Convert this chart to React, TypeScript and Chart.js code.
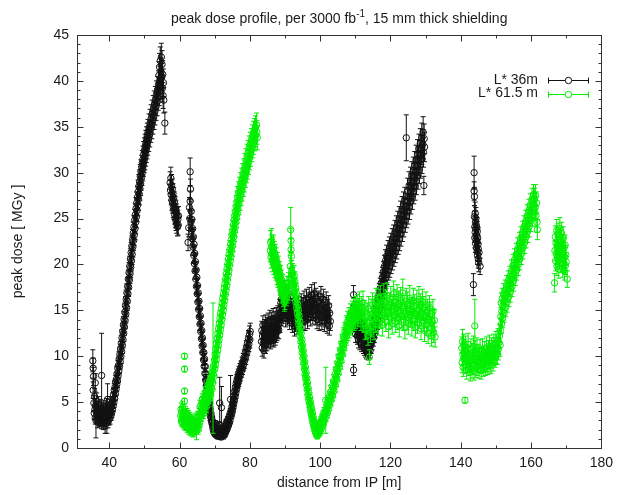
import React, { useEffect, useRef } from "react";
import { Chart, registerables } from "chart.js";

Chart.register(...registerables);

const FONT = "'Liberation Sans', Arial, Helvetica, sans-serif";
const TITLE_MAIN = "peak dose profile, per 3000 fb";
const TITLE_SUP = "-1";
const TITLE_REST = ", 15 mm thick shielding";
const X_TITLE = "distance from IP [m]";
const Y_TITLE = "peak dose [ MGy ]";
const SERIES_NAMES = ["L* 36m", "L* 61.5 m"];
const SERIES_COLORS = ["#111111", "#00ee00"];
const X_MIN = 30.8;
const X_MAX = 180;
const Y_MIN = 0;
const Y_MAX = 45;
const X_TICKS = [40, 60, 80, 100, 120, 140, 160, 180];
const X_MINOR = [50, 70, 90, 110, 130, 150, 170];
const Y_TICKS = [0, 5, 10, 15, 20, 25, 30, 35, 40, 45];
const Y_MINOR_STEP = 1;

type Pt = [number, number, number]; // [distance, dose, error]

// ---------- L* 36m ----------
const l36Valley: Pt[] = [[35.3,9.5,1.2],[35.4,8.7,1.1],[35.4,6.3,0.9],[35.5,7.8,1.0],[35.6,4.9,0.8],[35.7,3.8,0.7],[35.8,5.6,0.9],[35.9,4.2,0.8],[36.0,7.1,1.0],[36.0,3.3,0.7],[36.1,4.6,0.8],[36.2,3.0,1.9],[36.3,3.9,0.7],[36.4,5.1,0.9],[36.5,3.5,0.7],[36.6,4.3,0.8],[36.7,2.8,0.6],[36.8,3.7,0.7],[36.9,4.8,0.8],[37.0,3.2,0.7],[37.1,4.0,0.7],[37.2,2.9,0.6],[37.3,3.6,0.7],[37.4,4.5,0.8],[37.5,3.1,0.7],[37.6,3.9,0.7],[37.8,7.9,4.6],[37.8,2.7,0.6],[37.9,3.4,0.7],[38.0,4.2,0.8],[38.1,3.0,0.6],[38.2,3.7,0.7],[38.3,2.6,0.6],[38.4,4.4,0.8],[38.5,3.3,0.7],[38.6,2.9,0.6],[38.7,3.8,0.7],[38.8,3.1,1.5],[38.9,4.1,0.8],[39.0,2.7,0.6],[39.1,3.5,0.7],[39.2,4.6,0.8],[39.3,3.0,1.4],[39.4,3.8,0.7],[39.5,5.3,1.7],[39.6,2.8,0.6],[39.7,3.4,0.7],[39.8,4.0,0.7],[39.9,3.1,0.6],[40.0,3.7,0.7],[40.1,4.5,0.8],[40.2,3.3,0.7],[40.3,3.9,0.7],[40.4,4.8,0.8]];

const l36Rise: Pt[] = [[40.5,3.6,0.6],[40.6,4.5,0.6],[40.7,3.9,0.6],[40.8,4.9,0.6],[40.9,4.2,0.6],[41.0,5.3,0.7],[41.1,4.6,0.6],[41.2,5.8,0.7],[41.3,5.0,0.6],[41.4,6.3,0.7],[41.5,5.4,0.7],[41.6,6.6,0.7],[41.7,5.9,0.7],[41.8,7.2,0.7],[41.9,6.4,0.7],[42.0,7.5,0.7],[42.1,6.9,0.7],[42.2,8.1,0.8],[42.3,7.3,0.7],[42.4,8.7,0.8],[42.5,7.9,0.8],[42.6,9.0,0.8],[42.7,8.4,0.8],[42.8,9.7,0.8],[42.9,8.9,0.8],[43.0,10.2,0.8],[43.1,9.4,0.8],[43.2,10.8,0.8],[43.3,10.0,0.8],[43.4,11.4,0.9],[43.5,10.5,0.8],[43.6,12.0,0.9],[43.7,11.2,0.9],[43.8,12.7,0.9],[43.9,11.8,0.9],[44.0,13.4,0.9],[44.1,12.5,0.9],[44.2,14.0,0.9],[44.3,13.2,0.9],[44.4,14.8,1.0],[44.5,13.9,0.9],[44.6,15.5,1.0],[44.7,14.6,1.0],[44.8,16.2,1.0],[44.9,15.3,1.0],[45.0,16.9,1.0],[45.1,16.0,1.0],[45.2,17.6,1.0],[45.3,16.8,1.0],[45.4,18.4,1.0],[45.5,17.5,1.0],[45.6,19.1,1.1],[45.7,18.3,1.0],[45.8,19.8,1.1],[45.9,19.0,1.1],[46.0,20.6,1.1],[46.1,19.7,1.1],[46.2,21.3,1.1],[46.3,20.4,1.1],[46.4,22.0,1.1],[46.5,21.1,1.1],[46.6,22.7,1.1],[46.7,21.9,1.1],[46.8,23.4,1.2],[46.9,22.6,1.1],[47.0,24.1,1.2],[47.1,23.2,1.1],[47.2,24.8,1.2],[47.3,23.9,1.2],[47.4,25.4,1.2],[47.5,24.6,1.2],[47.6,26.1,1.2],[47.7,25.2,1.2],[47.8,26.7,1.2],[47.9,25.9,1.2],[48.0,27.3,1.2],[48.1,26.5,1.2],[48.2,27.9,1.3],[48.3,27.1,1.2],[48.4,28.5,1.3],[48.5,27.7,1.2],[48.6,29.0,1.3],[48.7,28.3,1.3],[48.8,29.6,1.3],[48.9,28.8,1.3],[49.0,30.1,1.3],[49.1,29.4,1.3],[49.2,30.6,1.3],[49.3,29.9,1.3],[49.4,31.1,1.3],[49.5,30.4,1.3],[49.6,31.5,1.4],[49.7,30.9,1.3],[49.8,32.0,1.4],[49.9,31.3,1.3],[50.0,32.4,1.4],[50.1,31.7,1.4],[50.2,32.8,1.4],[50.3,32.1,1.4],[50.4,33.2,1.4],[50.5,32.5,1.4],[50.6,33.6,1.4],[50.7,32.9,1.4],[50.8,34.0,1.4],[50.9,33.3,1.4],[51.0,34.4,1.4],[51.2,33.7,1.4],[51.3,34.9,1.5],[51.5,34.2,1.4],[51.6,35.4,1.5],[51.8,34.8,1.5],[51.9,35.9,1.5],[52.1,35.2,1.5],[52.2,36.4,1.5],[52.4,35.7,1.5],[52.5,36.9,1.5],[52.7,36.2,1.5],[52.8,37.4,1.5],[53.0,36.7,1.5],[53.1,37.9,1.5],[53.3,37.2,1.5],[53.4,38.5,1.5],[53.6,37.7,1.5],[53.7,39.0,1.5],[53.9,38.3,1.5],[54.0,39.6,1.5],[54.1,40.6,1.5],[54.2,38.8,1.5],[54.3,41.5,1.5],[54.4,40.1,1.5],[54.5,42.2,1.5],[54.6,39.5,1.5],[54.7,41.0,1.5],[54.8,42.6,1.5],[54.9,40.4,1.5],[55.0,41.8,1.5],[55.1,39.2,1.5],[55.2,40.7,1.5],[55.3,38.4,1.4],[55.4,39.8,1.5],[55.5,37.9,1.4],[55.8,35.4,1.2]];

const l36Step: Pt[] = [[57.3,28.9,1.2],[57.4,28.1,1.1],[57.5,29.4,1.2],[57.6,27.6,1.1],[57.7,28.6,1.2],[57.8,27.0,1.1],[57.9,28.2,1.1],[58.0,26.7,1.1],[58.1,27.7,1.1],[58.2,26.2,1.1],[58.3,27.3,1.1],[58.4,25.9,1.0],[58.5,26.8,1.1],[58.6,25.4,1.0],[58.7,26.3,1.1],[58.8,25.0,1.0],[58.9,26.0,1.0],[59.0,24.7,1.0],[59.1,25.6,1.0],[59.2,24.4,1.0],[59.3,25.2,1.0],[59.4,24.1,1.0],[59.5,24.9,1.0],[59.6,24.3,1.1],[59.7,25.3,1.0]];

const l36Fall: Pt[] = [[63.0,30.1,1.5],[63.1,28.2,1.1],[62.4,22.4,0.9],[62.6,24.0,1.0],[62.8,26.2,1.1],[62.9,25.0,1.0],[63.0,26.9,1.1],[63.2,24.6,1.0],[63.3,25.8,1.1],[63.4,23.7,1.0],[63.5,24.9,1.0],[63.6,22.8,1.0],[63.7,23.9,1.0],[63.8,21.9,0.9],[63.9,23.0,1.0],[64.0,21.0,0.9],[64.1,22.2,0.9],[64.2,20.1,0.9],[64.3,21.2,0.9],[64.4,19.3,0.9],[64.5,20.3,0.9],[64.6,18.4,0.9],[64.7,19.4,0.9],[64.8,17.6,0.8],[64.9,18.6,0.9],[65.0,16.8,0.8],[65.1,17.7,0.8],[65.2,15.9,0.8],[65.3,16.9,0.8],[65.4,15.1,0.8],[65.5,16.0,0.8],[65.6,14.3,0.8],[65.7,15.2,0.8],[65.8,13.5,0.7],[65.9,14.4,0.8],[66.0,12.7,0.7],[66.1,13.6,0.7],[66.2,11.9,0.7],[66.3,12.8,0.7],[66.4,11.1,0.7],[66.5,12.0,0.7],[66.6,10.4,0.7],[66.7,11.2,0.7],[66.8,9.6,0.6],[66.9,10.4,0.7],[67.0,8.9,0.6],[67.1,9.7,0.6],[67.2,8.1,0.6],[67.3,8.9,0.6],[67.4,7.4,0.6],[67.5,8.1,0.6],[67.6,6.8,0.5],[67.7,7.4,0.6],[67.8,6.1,0.5],[67.9,6.7,0.5],[68.0,5.5,0.5],[68.1,6.1,0.5],[68.2,4.9,0.5],[68.3,5.4,0.5],[68.4,4.4,0.4],[68.5,4.9,0.5],[68.6,3.9,0.4],[68.7,4.3,0.4],[68.8,3.4,0.4],[68.9,3.8,0.4],[69.0,3.0,0.4],[69.1,3.4,0.4],[69.2,2.7,0.3],[69.3,3.0,0.4],[69.4,2.4,0.3]];

const l36Trough: Pt[] = [[69.5,2.1,0.3],[69.6,2.6,0.3],[69.7,1.8,0.3],[69.8,2.3,0.3],[69.9,1.6,0.3],[70.0,2.0,0.3],[70.1,2.7,0.3],[70.2,1.5,0.3],[70.3,2.2,0.3],[70.4,1.8,0.3],[70.5,1.4,0.3],[70.6,2.4,0.3],[70.7,1.7,0.3],[70.8,1.3,0.3],[70.9,2.0,0.3],[71.0,1.5,0.3],[71.1,2.5,0.4],[71.2,1.3,0.3],[71.3,1.9,0.3],[71.4,4.9,2.8],[71.5,1.4,0.3],[71.6,2.1,0.3],[71.7,1.6,0.3],[71.8,1.2,0.3],[71.9,4.4,2.3],[72.0,1.8,0.3],[72.1,1.4,0.3],[72.2,2.2,0.3],[72.3,1.5,0.3],[72.4,1.9,0.3],[72.5,1.3,0.3],[72.6,2.3,0.3],[72.7,1.6,0.3],[72.8,2.0,0.3],[72.9,1.5,0.3],[73.0,2.4,0.4],[73.1,1.8,0.3],[73.2,2.7,0.4],[73.3,1.9,0.3],[73.4,2.5,0.4],[73.5,2.1,0.3],[73.6,3.0,0.4],[73.7,2.3,0.4],[73.8,2.9,0.4],[73.9,2.5,0.4],[74.0,3.3,0.4],[74.1,2.7,0.4],[74.2,3.5,0.5]];

const l36Climb: Pt[] = [[74.3,3.0,0.4],[74.4,3.8,0.5],[74.5,5.3,2.6],[74.6,3.4,0.5],[74.7,4.1,0.5],[74.8,3.7,0.5],[74.9,4.5,0.5],[75.0,4.0,0.5],[75.1,4.9,0.5],[75.2,4.4,0.5],[75.3,5.3,0.6],[75.4,4.8,0.5],[75.5,5.7,0.6],[75.6,5.2,0.6],[75.7,6.2,0.6],[75.8,5.6,0.6],[75.9,6.6,0.6],[76.0,6.0,0.6],[76.1,7.0,0.6],[76.2,6.4,0.6],[76.3,7.3,0.7],[76.4,6.8,0.6],[76.5,7.6,0.7],[76.6,7.1,0.6],[76.7,7.9,0.7],[76.8,7.4,0.7],[76.9,8.2,0.7],[77.0,7.7,0.7],[77.2,8.5,0.7],[77.3,8.0,0.7],[77.5,8.8,0.7],[77.6,8.4,0.7],[77.8,9.2,0.7],[77.9,8.7,0.7],[78.1,9.5,0.8],[78.2,9.1,0.7],[78.4,9.9,0.8],[78.5,9.5,0.8],[78.7,10.4,0.8],[78.8,9.9,0.8],[79.0,10.9,0.8],[79.1,10.4,0.8],[79.3,11.4,0.8],[79.4,10.9,0.8],[79.6,11.9,0.9],[79.7,11.3,0.8],[79.9,12.4,0.9],[80.0,11.8,0.9],[80.1,12.7,0.9]];

const l36Shelf: Pt[] = [[83.3,11.6,0.9],[83.4,12.8,1.0],[83.5,10.9,0.9],[83.6,12.2,0.9],[83.7,13.4,1.0],[83.8,11.4,0.9],[83.9,12.6,1.0],[84.0,10.6,0.8],[84.1,11.9,0.9],[84.2,13.0,1.0],[84.3,12.3,0.9],[84.4,11.2,0.9],[84.5,13.5,1.0],[84.6,12.0,0.9],[84.7,12.9,1.0],[84.8,11.5,0.9],[84.9,13.2,1.0],[85.0,12.4,0.9],[85.1,11.8,0.9],[85.2,13.7,1.0],[85.3,12.6,1.0],[85.4,11.9,0.9],[85.5,13.1,1.0],[85.6,12.2,0.9],[85.7,14.0,1.0],[85.8,12.7,1.0],[85.9,11.7,0.9],[86.0,13.3,1.0],[86.1,12.5,1.0],[86.2,13.8,1.0],[86.3,12.0,0.9],[86.4,13.0,1.0],[86.5,12.4,1.0],[86.6,14.1,1.1],[86.7,12.8,1.0],[86.8,11.9,0.9],[86.9,13.4,1.0],[87.0,12.6,1.0],[87.1,13.9,1.0],[87.2,12.2,1.0],[87.3,13.1,1.0],[87.4,12.5,1.0],[87.5,14.2,1.1],[87.6,13.3,1.0],[87.7,12.7,1.0],[87.8,13.8,1.0],[87.9,13.0,1.0],[88.0,14.4,1.1],[88.1,13.5,1.0],[88.2,12.9,1.0]];

const l36Plateau: Pt[] = [[88.4,14.0,1.0],[88.5,15.1,1.1],[88.6,13.6,1.0],[88.7,14.7,1.0],[88.8,15.8,1.1],[88.9,14.3,1.0],[89.0,16.2,1.1],[89.1,15.0,1.1],[89.2,16.8,1.1],[89.3,15.5,1.1],[89.4,14.6,1.0],[89.5,16.5,1.1],[89.6,15.2,1.1],[89.7,17.0,1.2],[89.8,15.9,1.1],[89.9,14.8,1.0],[90.0,16.3,1.1],[90.1,15.4,1.1],[90.2,14.2,1.0],[90.3,15.7,1.1],[90.4,16.6,1.1],[90.5,14.9,1.0],[90.6,15.8,1.1],[90.7,14.4,1.0],[90.8,15.3,1.1],[90.9,16.1,1.1],[91.0,14.6,1.0],[91.2,15.5,1.1],[91.3,13.9,1.0],[91.5,14.8,1.0],[91.6,15.9,1.1],[91.8,14.3,1.0],[91.9,15.2,1.1],[92.1,13.6,1.0],[92.2,14.5,1.0],[92.4,15.6,1.1],[92.5,14.0,1.0],[92.7,13.2,1.0],[92.8,14.8,1.0],[93.0,13.7,1.0],[93.1,15.1,1.1],[93.3,14.2,1.0],[93.4,13.4,1.0],[93.6,14.9,1.0],[93.7,13.8,1.0],[93.9,15.4,1.1],[94.0,14.5,1.0],[94.2,13.6,1.0],[94.3,15.0,1.1],[94.5,14.1,1.0],[94.6,15.7,1.1],[94.8,14.7,1.0],[94.9,13.9,1.0],[95.1,15.3,1.1],[95.2,14.4,1.0],[95.4,16.0,1.1],[95.5,14.9,1.0],[95.7,13.8,1.0],[95.8,15.5,1.1],[96.0,14.6,1.0],[96.1,16.2,1.1],[96.3,15.1,1.1],[96.4,14.0,1.0],[96.6,15.8,1.1],[96.7,14.8,1.0],[96.9,16.4,1.1],[97.0,15.3,1.1],[97.2,14.3,1.0],[97.3,15.9,1.1],[97.5,14.9,1.0],[97.6,16.6,1.2],[97.8,15.4,1.1],[97.9,14.5,1.0],[98.1,16.1,1.1],[98.2,15.0,1.1],[98.4,16.8,1.2],[98.5,15.6,1.1],[98.7,14.4,1.0],[98.8,16.3,1.1],[99.0,15.2,1.1],[99.1,14.0,1.0],[99.3,15.8,1.1],[99.4,14.7,1.0],[99.6,16.0,1.1],[99.7,13.8,1.0],[99.9,15.4,1.1],[100.0,14.3,1.0],[100.2,16.5,1.1],[100.3,15.0,1.1],[100.5,13.9,1.0],[100.6,15.6,1.1],[100.8,14.5,1.0],[100.9,16.2,1.1],[101.1,14.9,1.0],[101.2,13.7,1.0],[101.4,15.3,1.1],[101.5,14.2,1.0],[101.7,15.9,1.1],[101.8,14.6,1.0],[102.0,13.5,1.0],[102.1,15.1,1.1],[102.3,14.0,1.0],[102.4,15.5,1.1],[102.6,13.3,1.0],[102.7,14.7,1.0],[102.9,13.8,1.0]];

const l36Dip: Pt[] = [[109.5,16.7,1.0],[109.5,15.3,1.0],[109.5,8.5,0.6],[109.8,14.2,1.0],[109.9,13.1,0.9],[110.0,14.6,1.0],[110.1,12.4,0.9],[110.2,13.7,1.0],[110.3,14.9,1.0],[110.4,12.9,0.9],[110.5,13.9,1.0],[110.6,12.2,0.9],[110.7,14.3,1.0],[110.8,13.3,0.9],[110.9,11.8,0.9],[111.0,13.6,1.0],[111.1,12.6,0.9],[111.2,14.0,1.0],[111.3,11.5,0.8],[111.4,12.9,0.9],[111.5,13.8,1.0],[111.6,12.0,0.9],[111.7,13.2,0.9],[111.8,11.3,0.8],[111.9,12.5,0.9],[112.0,13.5,1.0],[112.1,11.7,0.8],[112.2,12.8,0.9],[112.3,11.1,0.8],[112.4,12.2,0.9],[112.5,13.0,0.9],[112.6,10.9,0.8],[112.7,11.9,0.9],[112.8,12.6,0.9],[112.9,10.7,0.8],[113.0,11.6,0.8],[113.1,12.3,0.9],[113.2,10.5,0.8],[113.3,11.4,0.8],[113.4,12.1,0.9],[113.5,10.8,0.8],[113.6,11.7,0.8],[113.7,10.4,0.8],[113.8,11.2,0.8],[113.9,12.0,0.9],[114.0,10.9,0.8],[114.1,11.5,0.8],[114.2,10.6,0.8]];

const l36Ramp: Pt[] = [[114.3,11.8,0.9],[114.4,12.6,0.9],[114.5,11.2,0.9],[114.6,12.1,0.9],[114.7,13.0,0.9],[114.8,11.6,0.9],[114.9,12.5,0.9],[115.0,13.4,0.9],[115.1,12.0,0.9],[115.2,13.0,0.9],[115.3,13.9,1.0],[115.4,12.4,0.9],[115.5,13.5,0.9],[115.6,14.4,1.0],[115.7,12.9,0.9],[115.8,14.0,1.0],[115.9,15.0,1.0],[116.0,13.4,0.9],[116.1,14.6,1.0],[116.2,15.6,1.0],[116.3,13.9,1.0],[116.4,15.2,1.0],[116.5,16.2,1.0],[116.6,14.5,1.0],[116.7,15.8,1.0],[116.8,16.8,1.1],[116.9,15.1,1.0],[117.0,16.4,1.0],[117.1,17.4,1.1],[117.2,15.7,1.0],[117.3,17.0,1.1],[117.4,18.0,1.1],[117.5,16.3,1.0],[117.6,17.6,1.1],[117.7,18.6,1.1],[117.8,16.9,1.1],[117.9,18.2,1.1],[118.0,19.2,1.1],[118.1,17.4,1.1],[118.2,18.8,1.1],[118.3,19.8,1.2],[118.4,17.9,1.1],[118.5,19.3,1.1],[118.6,20.4,1.2],[118.7,18.5,1.1],[118.8,19.8,1.2],[118.9,20.9,1.2],[119.0,18.9,1.1],[119.2,20.3,1.2],[119.3,21.4,1.2],[119.4,19.4,1.1],[119.6,20.7,1.2],[119.7,21.8,1.2],[119.8,19.8,1.2],[120.0,21.1,1.2],[120.1,22.2,1.2],[120.2,20.2,1.2],[120.4,21.5,1.2],[120.5,22.6,1.3],[120.6,20.6,1.2],[120.8,21.9,1.2],[120.9,23.0,1.3],[121.0,21.0,1.2],[121.2,22.4,1.2],[121.3,23.5,1.3],[121.4,21.4,1.2],[121.6,22.8,1.3],[121.7,24.0,1.3],[121.8,21.8,1.2],[122.0,23.3,1.3],[122.1,24.5,1.3],[122.2,22.3,1.2],[122.4,23.8,1.3],[122.5,25.0,1.3],[122.6,22.8,1.3],[122.8,24.3,1.3],[122.9,25.5,1.4],[123.0,23.3,1.3],[123.2,24.8,1.3],[123.3,26.0,1.4],[123.4,23.8,1.3],[123.6,25.3,1.3],[123.7,26.5,1.4],[123.8,24.3,1.3],[124.0,25.8,1.4],[124.1,27.0,1.4],[124.2,24.8,1.3],[124.4,26.3,1.4],[124.5,33.8,2.5],[124.6,25.3,1.3],[124.8,26.8,1.4],[124.9,28.0,1.4],[125.0,25.8,1.4],[125.2,27.3,1.4],[125.3,28.6,1.5],[125.4,26.3,1.4],[125.6,27.8,1.4],[125.7,29.1,1.5],[125.8,26.9,1.4],[126.0,28.4,1.5],[126.1,29.7,1.5],[126.2,27.4,1.4],[126.4,28.9,1.5],[126.5,30.2,1.5],[126.6,28.0,1.4],[126.8,29.5,1.5],[126.9,30.8,1.5],[127.0,28.5,1.5],[127.2,30.1,1.5],[127.3,31.4,1.6],[127.4,29.1,1.5],[127.6,30.7,1.5],[127.7,32.0,1.6],[127.8,29.7,1.5],[128.0,31.3,1.6],[128.1,32.6,1.6],[128.2,30.3,1.5],[128.4,31.9,1.6],[128.5,33.2,1.6],[128.6,30.9,1.5],[128.8,32.5,1.6],[128.9,33.8,1.6],[129.0,31.5,1.6],[129.2,33.1,1.6],[129.3,34.4,1.7],[129.4,32.2,1.6],[129.5,28.6,1.0],[129.6,33.7,1.6],[129.7,32.8,1.6]];

const l36Far: Pt[] = [[143.8,30.0,1.8],[143.8,28.0,1.0],[143.9,27.4,1.0],[143.6,17.8,1.2],[143.9,25.2,1.2],[144.0,24.1,1.1],[144.0,22.9,1.1],[144.1,25.6,1.2],[144.1,23.5,1.1],[144.2,24.6,1.2],[144.2,22.3,1.0],[144.3,23.9,1.1],[144.3,25.0,1.2],[144.4,22.7,1.1],[144.4,24.3,1.1],[144.5,23.2,1.1],[144.5,21.8,1.0],[144.6,24.0,1.1],[144.6,22.5,1.1],[144.7,23.6,1.1],[144.7,21.4,1.0],[144.8,22.9,1.1],[144.8,21.0,1.0],[144.9,22.2,1.0],[145.0,20.6,1.0],[145.0,21.7,1.0],[145.1,20.2,1.0],[145.2,21.3,1.0],[145.5,19.8,0.9]];

// ---------- L* 61.5 m ----------
const l61Valley: Pt[] = [[61.4,10.0,0.3],[61.4,8.6,0.3],[61.4,6.2,0.3],[61.4,5.1,0.3],[60.3,3.5,0.6],[60.4,4.2,0.7],[60.5,2.9,0.5],[60.6,3.8,0.6],[60.7,3.2,0.6],[60.8,4.4,0.7],[60.9,2.7,0.5],[61.0,3.6,0.6],[61.1,3.0,0.6],[61.2,4.0,0.7],[61.3,2.5,0.5],[61.5,3.4,0.6],[61.6,2.8,0.5],[61.7,3.9,0.6],[61.8,2.4,0.5],[61.9,3.3,0.6],[62.0,2.6,0.5],[62.1,3.7,0.6],[62.2,2.2,0.5],[62.3,3.0,0.6],[62.4,2.5,0.5],[62.5,3.5,0.6],[62.6,2.0,0.5],[62.7,2.9,0.5],[62.8,2.3,0.5],[62.9,3.3,0.6],[63.0,1.9,0.5],[63.1,2.7,0.5],[63.2,2.2,0.5],[63.3,3.1,0.6],[63.4,1.8,0.5],[63.5,2.6,0.5],[63.6,2.1,0.5],[63.7,3.0,0.6],[63.8,1.7,0.5],[63.9,2.5,0.5],[64.0,2.0,0.5],[64.1,2.9,0.5],[64.2,2.3,0.5],[64.3,1.8,0.5],[64.4,2.7,0.5],[64.5,2.1,0.5],[64.6,3.2,0.6],[64.7,2.4,0.5],[64.8,1.9,1.0],[64.9,2.8,0.5],[65.0,2.2,0.5],[65.1,3.4,0.6],[65.2,2.6,0.5],[65.3,2.0,0.5],[65.4,3.0,0.6],[65.5,2.4,0.5],[65.6,3.7,0.6],[65.7,2.8,0.5],[65.8,4.5,0.7],[65.9,3.2,0.6],[66.0,3.9,0.6]];

const l61Rise: Pt[] = [[66.1,4.6,0.6],[66.2,3.5,0.6],[66.3,4.9,0.6],[66.4,3.9,0.6],[66.5,5.3,0.6],[66.6,4.2,0.6],[66.7,5.0,0.6],[66.8,3.8,0.6],[66.9,5.6,0.6],[67.0,4.4,0.6],[67.1,5.3,0.6],[67.2,4.1,0.6],[67.3,6.0,0.7],[67.4,4.8,0.6],[67.5,5.7,0.6],[67.6,4.5,0.6],[67.7,6.4,0.7],[67.8,5.2,0.6],[67.9,6.1,0.7],[68.0,5.0,0.6],[68.1,6.8,0.7],[68.2,5.6,0.6],[68.3,6.6,0.7],[68.4,5.4,0.6],[68.5,7.2,0.7],[68.6,6.1,0.7],[68.7,7.0,0.7],[68.8,5.9,0.7],[68.9,7.7,0.7],[69.0,6.6,0.7],[69.1,7.5,0.7],[69.2,6.4,0.7],[69.3,8.3,0.7],[69.4,7.1,0.7],[69.5,8.7,7.1],[69.6,8.0,0.7],[69.7,9.0,0.7],[69.8,7.8,0.7],[69.9,9.6,0.8],[70.0,8.6,0.7],[70.1,10.2,0.8],[70.2,9.1,0.7],[70.3,10.8,0.8],[70.4,9.6,0.8],[70.5,11.4,0.8],[70.6,10.2,0.8],[70.7,11.9,0.8],[70.8,10.7,0.8],[70.9,12.5,0.8],[71.0,11.2,0.8],[71.1,13.0,0.8],[71.2,11.8,0.8],[71.3,13.6,0.9],[71.4,12.3,0.8],[71.5,14.1,0.9],[71.6,12.9,0.8],[71.7,14.7,0.9],[71.8,13.4,0.9],[71.9,15.2,0.9],[72.0,14.0,0.9],[72.1,15.7,0.9],[72.2,14.5,0.9],[72.3,16.3,0.9],[72.4,15.0,0.9],[72.5,16.8,0.9],[72.6,15.6,0.9],[72.7,17.4,1.0],[72.8,16.1,0.9],[72.9,17.9,1.0],[73.0,16.7,0.9],[73.1,18.4,1.0],[73.2,17.2,1.0],[73.3,19.0,1.0],[73.4,17.7,1.0],[73.5,19.5,1.0],[73.6,18.3,1.0],[73.7,20.0,1.0],[73.8,18.8,1.0],[73.9,20.6,1.0],[74.0,19.3,1.0],[74.1,21.1,1.0],[74.2,19.9,1.0],[74.3,21.6,1.0],[74.4,20.4,1.0],[74.5,22.2,1.1],[74.6,20.9,1.0],[74.7,22.7,1.1],[74.8,21.5,1.0],[74.9,23.2,1.1],[75.0,22.0,1.1],[75.1,23.7,1.1],[75.2,22.5,1.1],[75.3,24.3,1.1],[75.4,23.0,1.1],[75.5,24.8,1.1],[75.6,23.6,1.1],[75.7,25.3,1.1],[75.8,24.1,1.1],[75.9,25.8,1.1],[76.0,24.6,1.1],[76.1,26.3,1.2],[76.2,25.1,1.1],[76.3,26.8,1.2],[76.4,25.6,1.1],[76.5,27.3,1.2],[76.6,26.1,1.2],[76.8,27.8,1.2],[76.9,26.6,1.2],[77.1,28.3,1.2],[77.2,27.1,1.2],[77.4,28.8,1.2],[77.5,27.6,1.2],[77.7,29.3,1.2],[77.8,28.1,1.2],[78.0,29.8,1.2],[78.1,28.6,1.2],[78.3,30.3,1.2],[78.4,29.1,1.2],[78.6,30.8,1.3],[78.7,29.6,1.2],[78.9,31.3,1.3],[79.0,30.1,1.2],[79.2,31.8,1.3],[79.3,30.6,1.3],[79.5,32.2,1.3],[79.6,31.1,1.3],[79.8,32.7,1.3],[79.9,31.6,1.3],[80.1,33.1,1.3],[80.2,32.0,1.3],[80.4,33.5,1.3],[80.5,32.5,1.3],[80.7,33.9,1.3],[80.8,32.9,1.3],[81.0,34.3,1.3],[81.1,33.3,1.3],[81.3,34.6,1.3],[81.4,33.7,1.3],[81.6,34.9,1.3],[81.7,34.1,1.3],[81.9,35.2,1.3],[82.0,34.4,1.3],[82.1,33.8,1.3]];

const l61Hump: Pt[] = [[85.8,21.5,1.2],[85.9,22.4,1.3],[86.0,20.8,1.2],[86.1,21.9,1.3],[86.2,22.6,1.3],[86.3,21.2,1.2],[86.4,20.4,1.2],[86.5,21.7,1.3],[86.6,20.9,1.2],[86.7,21.9,1.3],[86.8,20.1,1.2],[86.9,21.3,1.2],[87.0,20.5,1.2],[87.1,19.8,1.2],[87.2,21.0,1.2],[87.3,20.2,1.2],[87.4,19.4,1.1],[87.5,20.6,1.2],[87.6,19.7,1.2],[87.7,18.9,1.1],[87.8,20.1,1.2],[87.9,19.3,1.1],[88.0,18.6,1.1],[88.1,19.7,1.2],[88.2,18.9,1.1],[88.3,18.2,1.1],[88.4,19.2,1.1],[88.5,18.4,1.1],[88.6,17.7,1.1],[88.7,18.8,1.1],[88.8,17.9,1.1],[88.9,17.3,1.0],[89.0,18.3,1.1],[89.1,17.5,1.0],[89.2,16.8,1.0],[89.3,17.8,1.1],[89.4,17.0,1.0],[89.5,16.4,1.0],[89.6,17.3,1.0],[89.7,16.6,1.0],[89.8,15.9,1.0],[89.9,16.9,1.0],[90.0,16.1,1.0],[90.2,17.2,1.0],[90.4,16.5,1.0],[90.6,17.6,1.1],[90.8,16.8,1.0],[91.0,18.0,1.1],[91.2,17.1,1.0],[91.4,18.5,1.1],[91.5,19.8,1.2],[91.6,23.8,2.4],[91.7,22.6,1.3],[91.7,21.6,1.2],[91.8,20.9,1.2],[91.9,19.3,1.1],[92.0,18.0,1.1],[92.1,19.0,1.1],[92.2,17.6,1.0],[92.3,18.6,1.1],[92.5,17.9,1.1],[92.6,18.8,1.1]];

const l61Fall: Pt[] = [[92.7,17.2,1.0],[92.8,18.1,1.1],[92.9,16.6,1.0],[93.0,17.5,1.0],[93.1,16.0,1.0],[93.2,16.9,1.0],[93.3,15.3,0.9],[93.4,16.3,1.0],[93.5,14.7,0.9],[93.6,15.6,1.0],[93.7,14.1,0.9],[93.8,15.0,0.9],[93.9,13.5,0.9],[94.0,14.4,0.9],[94.1,12.8,0.8],[94.2,13.7,0.9],[94.3,12.2,0.8],[94.4,13.1,0.9],[94.5,11.6,0.8],[94.6,12.5,0.8],[94.7,11.0,0.8],[94.8,11.8,0.8],[94.9,10.4,0.7],[95.0,11.2,0.8],[95.1,9.8,0.7],[95.2,10.6,0.7],[95.3,9.2,0.7],[95.4,10.0,0.7],[95.5,8.6,0.7],[95.6,9.4,0.7],[95.7,8.0,0.6],[95.8,8.8,0.7],[95.9,7.5,0.6],[96.0,8.2,0.6],[96.1,6.9,0.6],[96.2,7.6,0.6],[96.3,6.4,0.6],[96.4,7.1,0.6],[96.5,5.8,0.5],[96.6,6.5,0.6],[96.7,5.3,0.5],[96.8,6.0,0.5],[96.9,4.9,0.5],[97.0,5.5,0.5],[97.1,4.4,0.5],[97.2,5.0,0.5],[97.3,4.0,0.5],[97.4,4.6,0.5],[97.5,3.6,0.4],[97.6,4.2,0.5],[97.7,3.2,0.4],[97.8,3.8,0.4],[97.9,2.8,0.4],[98.0,3.4,0.4],[98.1,2.5,0.4],[98.2,3.0,0.4],[98.3,2.2,0.4],[98.4,2.7,0.4],[98.5,1.9,0.4],[98.6,2.4,0.4],[98.7,1.7,0.4],[98.8,2.2,0.4],[98.9,1.5,0.4],[99.0,2.0,0.4],[99.1,1.4,0.4]];

const l61Recover: Pt[] = [[99.2,1.9,0.4],[99.3,1.4,0.4],[99.4,2.2,0.4],[99.5,1.6,0.4],[99.6,2.5,0.4],[99.7,1.8,0.4],[99.8,2.3,0.4],[99.9,1.7,0.4],[100.0,2.6,0.4],[100.1,2.0,0.4],[100.2,2.9,0.5],[100.3,2.2,0.4],[100.4,2.7,0.4],[100.5,3.2,0.5],[100.6,2.4,0.4],[100.7,3.0,0.5],[100.8,3.5,0.5],[100.9,2.7,0.4],[101.0,3.3,0.5],[101.1,3.9,0.5],[101.2,3.0,0.5],[101.3,3.6,0.5],[101.6,5.2,3.6],[101.6,4.2,0.5],[101.7,3.4,0.5],[101.8,4.0,0.5],[101.9,4.7,0.6],[102.0,3.8,0.5],[102.1,4.5,0.6],[102.2,5.1,0.6],[102.3,4.2,0.5],[102.5,4.9,0.6],[102.6,5.6,0.6],[102.7,4.7,0.6],[102.9,5.4,0.6],[103.0,6.1,0.7],[103.1,5.2,0.6],[103.3,5.9,0.7],[103.4,6.7,0.7],[103.5,5.7,0.6],[103.7,6.5,0.7],[103.8,7.3,0.7],[103.9,6.2,0.7],[104.1,7.1,0.7],[104.2,8.0,0.8],[104.3,6.8,0.7],[104.5,7.7,0.8],[104.6,8.6,0.8],[104.7,7.4,0.7],[104.9,8.4,0.8],[105.0,9.3,0.9],[105.1,8.1,0.8],[105.3,9.1,0.8],[105.4,10.0,0.9],[105.5,8.8,0.8],[105.7,9.8,0.9],[105.8,10.7,0.9],[105.9,9.5,0.9],[106.1,10.5,0.9],[106.2,11.4,1.0],[106.3,10.2,0.9],[106.5,11.2,1.0],[106.6,12.1,1.0],[106.7,10.9,0.9],[106.9,11.9,1.0],[107.0,12.7,1.0],[107.1,11.6,1.0],[107.3,12.5,1.0],[107.4,13.3,1.1],[107.5,12.2,1.0],[107.7,13.1,1.1],[107.8,13.8,1.1],[107.9,12.7,1.0],[108.1,13.6,1.1],[108.2,14.2,1.1],[108.3,13.1,1.1],[108.5,13.9,1.1],[108.6,14.5,1.2],[108.8,13.4,1.1],[108.9,14.2,1.1],[109.1,14.8,1.2],[109.2,13.7,1.1],[109.4,14.5,1.2],[109.5,15.1,1.2],[109.7,13.9,1.1],[109.8,14.7,1.2],[110.0,15.3,1.2],[110.1,14.1,1.1],[110.3,14.9,1.2],[110.5,15.5,1.2],[110.6,14.3,1.1],[110.8,15.1,1.2],[111.0,14.5,1.2],[111.2,15.7,1.3],[111.4,14.8,1.2],[111.6,13.9,1.1],[111.8,15.3,1.2],[112.0,14.4,1.2],[112.2,15.8,1.3],[112.4,13.7,1.1],[112.6,14.9,1.2],[112.8,12.9,1.1],[113.0,14.2,1.2]];

const l61Plateau: Pt[] = [[113.2,13.0,1.1],[113.4,14.6,1.2],[113.6,12.3,1.1],[113.8,15.2,1.3],[114.0,9.9,0.8],[114.1,13.6,1.2],[114.3,12.6,1.1],[114.5,14.9,1.3],[114.7,13.3,1.2],[114.9,15.6,1.3],[115.1,14.1,1.2],[115.3,12.9,1.1],[115.5,15.2,1.3],[115.7,13.8,1.2],[115.9,16.0,1.4],[116.1,14.4,1.2],[116.3,15.4,1.3],[116.5,13.5,1.2],[116.7,15.9,1.4],[116.9,14.7,1.3],[117.1,16.3,1.4],[117.3,14.2,1.2],[117.5,15.5,1.3],[117.7,13.4,1.2],[117.9,15.1,1.3],[118.1,16.5,1.4],[118.3,14.6,1.3],[118.5,15.8,1.4],[118.7,13.9,1.2],[118.9,15.3,1.3],[119.1,16.6,1.4],[119.3,14.8,1.3],[119.5,13.2,1.2],[119.7,15.6,1.3],[119.9,14.3,1.3],[120.1,16.2,1.4],[120.3,14.9,1.3],[120.5,13.6,1.2],[120.7,15.4,1.3],[120.9,16.8,1.4],[121.1,14.5,1.3],[121.3,15.9,1.4],[121.5,13.8,1.2],[121.7,15.2,1.3],[121.9,16.4,1.4],[122.1,14.1,1.2],[122.3,15.7,1.4],[122.5,13.3,1.2],[122.7,14.8,1.3],[122.9,16.1,1.4],[123.1,14.4,1.3],[123.3,15.5,1.3],[123.5,16.9,1.5],[123.7,14.0,1.2],[123.9,15.3,1.3],[124.1,13.1,1.2],[124.3,14.7,1.3],[124.5,16.0,1.4],[124.7,14.2,1.3],[124.9,15.6,1.4],[125.1,13.6,1.2],[125.3,14.9,1.3],[125.5,16.3,1.4],[125.7,14.5,1.3],[125.9,15.1,1.3],[126.1,13.4,1.2],[126.3,14.8,1.3],[126.5,16.0,1.4],[126.7,14.0,1.2],[126.9,15.4,1.3],[127.1,13.2,1.2],[127.3,14.6,1.3],[127.5,15.8,1.4],[127.7,13.7,1.2],[127.9,15.0,1.3],[128.1,16.2,1.4],[128.3,14.3,1.3],[128.5,15.5,1.3],[128.7,13.0,1.2],[128.9,14.6,1.3],[129.1,15.9,1.4],[129.3,13.9,1.2],[129.5,15.2,1.3],[129.7,12.8,1.2],[129.9,14.4,1.3],[130.1,15.6,1.4],[130.3,13.5,1.2],[130.5,14.9,1.3],[130.7,12.5,1.1],[130.9,14.1,1.3],[131.1,15.3,1.3],[131.3,13.1,1.2],[131.5,14.6,1.3],[131.7,12.2,1.1],[131.9,13.8,1.2],[132.1,14.9,1.3],[132.3,12.6,1.1],[132.5,13.9,1.2],[132.7,12.1,1.1]];

const l61Low: Pt[] = [[140.3,10.9,1.2],[140.4,9.3,1.1],[140.5,11.6,1.3],[140.6,10.2,1.1],[140.7,8.8,1.0],[140.8,11.2,1.2],[140.9,9.7,1.1],[141.0,10.6,1.2],[141.2,5.2,0.3],[141.3,9.1,1.0],[141.4,11.0,1.2],[141.5,9.9,1.1],[141.7,8.5,1.0],[141.8,10.4,1.2],[142.0,9.4,1.1],[142.1,11.3,1.2],[142.3,8.9,1.0],[142.4,10.1,1.1],[142.6,9.5,1.1],[142.7,8.3,1.0],[142.9,10.7,1.2],[143.0,9.2,1.0],[143.2,8.6,1.0],[143.3,10.3,1.1],[143.5,9.0,1.0],[143.6,11.0,1.2],[143.8,8.4,1.0],[144.0,13.3,2.9],[144.0,9.6,1.1],[144.1,10.5,1.2],[144.3,8.7,1.0],[144.4,9.8,1.1],[144.6,10.8,1.2],[144.7,8.9,1.0],[144.9,9.4,1.1],[145.0,10.2,1.1],[145.2,8.6,1.0],[145.3,9.7,1.1],[145.5,10.6,1.2],[145.6,9.1,1.0],[145.8,8.5,1.0],[145.9,10.0,1.1],[146.1,9.3,1.0],[146.2,10.7,1.2],[146.4,8.8,1.0],[146.5,9.9,1.1],[146.7,9.2,1.0],[146.8,10.4,1.2],[147.0,8.9,1.0],[147.1,9.6,1.1],[147.3,10.9,1.2],[147.4,9.3,1.0],[147.6,10.1,1.1],[147.7,9.0,1.0],[147.9,10.5,1.2],[148.0,9.7,1.1],[148.2,11.1,1.2],[148.3,9.4,1.1],[148.5,10.3,1.1],[148.6,9.1,1.0],[148.8,10.8,1.2],[148.9,9.8,1.1],[149.1,10.5,1.2],[149.2,9.5,1.1],[149.4,11.2,1.2],[149.5,10.1,1.1],[149.7,10.8,1.2],[149.8,9.9,1.1],[150.0,11.4,1.3],[150.1,10.4,1.2],[150.3,11.0,1.2],[150.4,10.2,1.1],[150.6,11.7,1.3],[150.7,10.8,1.2],[150.9,11.5,1.3],[151.0,12.2,1.3],[151.2,11.2,1.2],[151.3,12.8,1.3]];

const l61Climb: Pt[] = [[151.4,14.3,1.0],[151.5,15.8,1.1],[151.6,13.5,1.0],[151.7,14.9,1.0],[151.8,16.3,1.1],[151.9,14.1,1.0],[152.0,15.5,1.1],[152.2,16.8,1.1],[152.3,14.7,1.0],[152.5,16.1,1.1],[152.6,17.2,1.1],[152.8,15.3,1.0],[152.9,16.6,1.1],[153.1,17.7,1.1],[153.2,15.9,1.1],[153.4,17.1,1.1],[153.5,18.2,1.1],[153.7,16.5,1.1],[153.8,17.6,1.1],[154.0,18.7,1.1],[154.1,17.0,1.1],[154.3,18.2,1.1],[154.4,19.3,1.2],[154.6,17.6,1.1],[154.7,18.8,1.1],[154.9,19.9,1.2],[155.0,18.2,1.1],[155.2,19.4,1.1],[155.3,20.5,1.2],[155.5,18.8,1.1],[155.6,20.0,1.2],[155.8,21.1,1.2],[155.9,19.4,1.1],[156.1,20.6,1.2],[156.2,21.7,1.2],[156.4,20.0,1.2],[156.5,21.2,1.2],[156.7,22.3,1.2],[156.8,20.6,1.2],[157.0,21.8,1.2],[157.1,22.9,1.2],[157.3,21.2,1.2],[157.4,22.4,1.2],[157.6,23.5,1.2],[157.7,21.8,1.2],[157.9,23.0,1.2],[158.0,24.1,1.2],[158.2,22.4,1.2],[158.3,23.6,1.2],[158.5,24.7,1.2],[158.6,23.0,1.2],[158.8,24.2,1.2],[158.9,25.3,1.2],[159.1,23.6,1.2],[159.2,24.8,1.2],[159.4,25.9,1.2],[159.5,24.2,1.2],[159.7,25.4,1.2],[159.8,26.5,1.2],[160.0,24.8,1.2],[160.1,26.0,1.2],[160.3,27.1,1.2],[160.4,25.4,1.2],[160.6,26.6,1.2],[160.7,27.6,1.1],[160.9,26.0,1.2],[161.0,27.1,1.2],[161.2,26.2,1.2],[161.3,27.5,1.2],[161.4,25.3,1.2],[161.6,26.7,1.2],[161.7,24.6,1.1],[161.8,23.8,1.1]];

const l61End: Pt[] = [[166.7,18.0,1.0],[166.8,21.5,1.1],[166.9,23.0,1.2],[167.0,20.4,1.1],[167.1,22.3,1.2],[167.2,21.1,1.1],[167.3,23.7,1.2],[167.4,19.8,1.0],[167.5,22.0,1.1],[167.6,20.7,1.1],[167.7,23.3,1.2],[167.8,21.6,1.1],[167.9,19.5,1.0],[168.0,22.6,1.2],[168.1,20.9,1.1],[168.2,23.9,1.2],[168.3,21.3,1.1],[168.4,22.8,1.2],[168.5,20.2,1.1],[168.6,21.9,1.1],[168.7,23.4,1.2],[168.8,20.6,1.1],[168.9,22.2,1.1],[169.0,19.6,1.0],[169.1,21.4,1.1],[169.2,22.9,1.2],[169.3,20.1,1.0],[169.4,21.8,1.1],[169.5,19.3,1.0],[169.6,20.8,1.1],[169.7,22.1,1.1],[169.8,19.9,1.0],[169.9,21.0,1.1],[170.0,20.3,1.0],[170.3,18.4,0.9]];

const series36: Pt[] = [...l36Valley, ...l36Rise, ...l36Step, ...l36Fall, ...l36Trough, ...l36Climb, ...l36Shelf, ...l36Plateau, ...l36Dip, ...l36Ramp, ...l36Far];
const series61: Pt[] = [...l61Valley, ...l61Rise, ...l61Hump, ...l61Fall, ...l61Recover, ...l61Plateau, ...l61Low, ...l61Climb, ...l61End];

const errorBarPlugin = {
  id: "errorBars",
  beforeDatasetDraw(chart: any, args: any) {
    const ds = chart.data.datasets[args.index];
    const xs = chart.scales.x;
    const ys = chart.scales.y;
    const a = chart.chartArea;
    const ctx = chart.ctx;
    ctx.save();
    ctx.beginPath();
    ctx.rect(a.left, a.top, a.right - a.left, a.bottom - a.top);
    ctx.clip();
    ctx.strokeStyle = ds.borderColor;
    ctx.lineWidth = 1;
    ctx.beginPath();
    for (const p of ds.data) {
      const px = xs.getPixelForValue(p.x);
      const top = ys.getPixelForValue(p.y + p.e);
      const bot = ys.getPixelForValue(p.y - p.e);
      ctx.moveTo(px, top);
      ctx.lineTo(px, bot);
      ctx.moveTo(px - 2.5, top);
      ctx.lineTo(px + 2.5, top);
      ctx.moveTo(px - 2.5, bot);
      ctx.lineTo(px + 2.5, bot);
    }
    ctx.stroke();
    ctx.restore();
  },
};

const framePlugin = {
  id: "frame",
  afterDraw(chart: any) {
    const { ctx, chartArea: a, scales } = chart;
    const xs = scales.x;
    const ys = scales.y;
    ctx.save();
    ctx.strokeStyle = "#333";
    ctx.lineWidth = 1;
    const L = Math.round(a.left) + 0.5;
    const R = Math.round(a.right) + 0.5;
    const T = Math.round(a.top) + 0.5;
    const B = Math.round(a.bottom) + 0.5;
    ctx.strokeRect(L, T, R - L, B - T);
    const seg = (x1: number, y1: number, x2: number, y2: number) => {
      ctx.beginPath();
      ctx.moveTo(x1, y1);
      ctx.lineTo(x2, y2);
      ctx.stroke();
    };
    const xTick = (v: number, len: number) => {
      const px = Math.round(xs.getPixelForValue(v)) + 0.5;
      seg(px, B, px, B - len);
      seg(px, T, px, T + len);
    };
    const yTick = (v: number, len: number) => {
      const py = Math.round(ys.getPixelForValue(v)) + 0.5;
      seg(L, py, L + len, py);
      seg(R, py, R - len, py);
    };
    X_TICKS.forEach((v) => xTick(v, 6));
    X_MINOR.forEach((v) => xTick(v, 3));
    for (let v = Y_MIN; v <= Y_MAX; v += Y_MINOR_STEP) {
      yTick(v, v % 5 === 0 ? 6 : 3);
    }

    // title with superscript
    ctx.fillStyle = "#1a1a1a";
    ctx.textBaseline = "alphabetic";
    ctx.textAlign = "left";
    const big = `14px ${FONT}`;
    const small = `10px ${FONT}`;
    ctx.font = big;
    const w1 = ctx.measureText(TITLE_MAIN).width;
    const w3 = ctx.measureText(TITLE_REST).width;
    ctx.font = small;
    const w2 = ctx.measureText(TITLE_SUP).width;
    const cx = (a.left + a.right) / 2;
    let tx = cx - (w1 + w2 + w3) / 2;
    const ty = 23;
    ctx.font = big;
    ctx.fillText(TITLE_MAIN, tx, ty);
    tx += w1;
    ctx.font = small;
    ctx.fillText(TITLE_SUP, tx, ty - 6);
    tx += w2;
    ctx.font = big;
    ctx.fillText(TITLE_REST, tx, ty);

    // axis titles
    ctx.textAlign = "center";
    ctx.textBaseline = "middle";
    ctx.fillText(X_TITLE, cx, 483);
    ctx.save();
    ctx.translate(18, (a.top + a.bottom) / 2);
    ctx.rotate(-Math.PI / 2);
    ctx.fillText(Y_TITLE, 0, 0);
    ctx.restore();

    // legend
    const rows = [80, 93.5];
    SERIES_NAMES.forEach((name, i) => {
      const y = rows[i];
      ctx.fillStyle = "#1a1a1a";
      ctx.textAlign = "right";
      ctx.textBaseline = "middle";
      ctx.font = big;
      ctx.fillText(name, 538, y);
      ctx.strokeStyle = SERIES_COLORS[i];
      const yy = Math.round(y) + 0.5;
      seg(548, yy, 589, yy);
      seg(548.5, yy - 3, 548.5, yy + 3);
      seg(588.5, yy - 3, 588.5, yy + 3);
      ctx.beginPath();
      ctx.arc(568.5, yy, 3.2, 0, Math.PI * 2);
      ctx.fillStyle = "#fff";
      ctx.fill();
      ctx.stroke();
    });
    ctx.restore();
  },
};

export default function App() {
  const ref = useRef<HTMLCanvasElement | null>(null);
  useEffect(() => {
    if (!ref.current) return;
    const toData = (arr: Pt[]) => arr.map(([x, y, e]) => ({ x, y, e }));
    const tickFont = { family: FONT, size: 14 };
    const chart = new Chart(ref.current, {
      type: "scatter",
      data: {
        datasets: [
          {
            label: SERIES_NAMES[0],
            data: toData(series36) as any,
            borderColor: SERIES_COLORS[0],
            backgroundColor: "rgba(0,0,0,0)",
            pointRadius: 3.2,
            pointBorderWidth: 1,
            showLine: false,
            order: 1,
          },
          {
            label: SERIES_NAMES[1],
            data: toData(series61) as any,
            borderColor: SERIES_COLORS[1],
            backgroundColor: "rgba(0,0,0,0)",
            pointRadius: 3.2,
            pointBorderWidth: 1,
            showLine: false,
            order: 0,
          },
        ],
      },
      options: {
        animation: false,
        responsive: false,
        events: [],
        layout: { padding: { top: 35, right: 17, left: 0, bottom: 0 } },
        plugins: {
          legend: { display: false },
          tooltip: { enabled: false },
          title: { display: false },
        },
        scales: {
          x: {
            type: "linear",
            min: X_MIN,
            max: X_MAX,
            afterBuildTicks: (s: any) => {
              s.ticks = X_TICKS.map((v) => ({ value: v }));
            },
            afterFit: (s: any) => {
              s.height = 47;
            },
            grid: { display: false, drawTicks: false },
            border: { display: false },
            ticks: { font: tickFont, color: "#1a1a1a", padding: 7, maxRotation: 0, autoSkip: false },
          },
          y: {
            type: "linear",
            min: Y_MIN,
            max: Y_MAX,
            afterBuildTicks: (s: any) => {
              s.ticks = Y_TICKS.map((v) => ({ value: v }));
            },
            afterFit: (s: any) => {
              s.width = 77;
            },
            grid: { display: false, drawTicks: false },
            border: { display: false },
            ticks: { font: tickFont, color: "#1a1a1a", padding: 8, autoSkip: false },
          },
        },
      } as any,
      plugins: [errorBarPlugin, framePlugin],
    });
    return () => chart.destroy();
  }, []);
  return (
    <div style={{ position: "fixed", left: 0, top: 0, width: 620, height: 495, background: "#fff" }}>
      <canvas ref={ref} width={620} height={495} style={{ display: "block", width: 620, height: 495 }} />
    </div>
  );
}
